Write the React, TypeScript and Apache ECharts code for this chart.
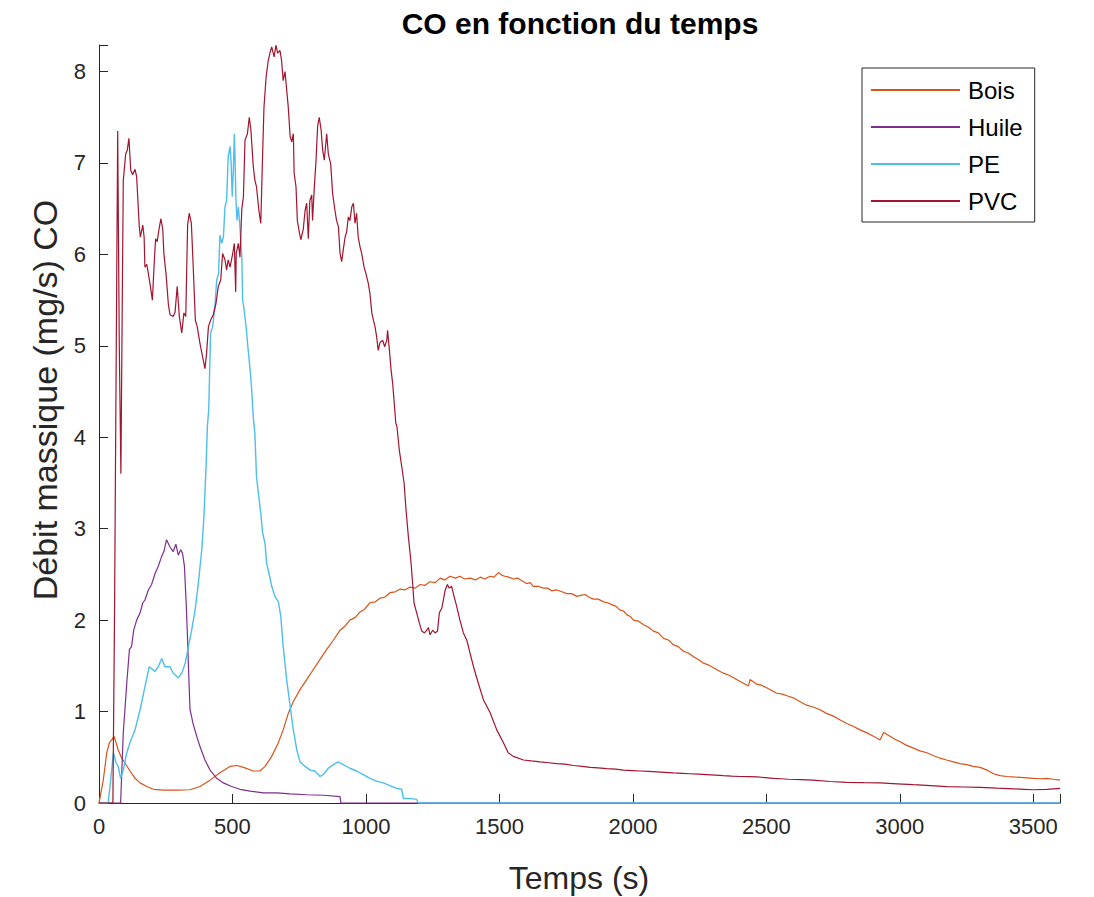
import React, { useEffect, useRef } from "react";
import * as echarts from "echarts";

const seriesNames = ["Bois", "Huile", "PE", "PVC"];
const seriesColors = ["#D95319", "#7E2F8E", "#4DBEEE", "#A2142F"];

const xTicks = [0, 500, 1000, 1500, 2000, 2500, 3000, 3500];
const yTicks = [0, 1, 2, 3, 4, 5, 6, 7, 8];

const bois: [number, number][] = [
  [0, 0], [16, 0.25], [29, 0.55], [39, 0.66], [48, 0.69], [56, 0.73], [64, 0.66], [72, 0.58], [85, 0.49],
  [97, 0.44], [116, 0.35], [135, 0.27], [154, 0.22], [179, 0.18], [204, 0.15], [241, 0.14], [291, 0.14],
  [341, 0.145], [378, 0.18], [416, 0.25], [453, 0.33], [491, 0.4], [516, 0.41], [541, 0.39], [578, 0.35],
  [603, 0.35], [622, 0.4], [647, 0.51], [672, 0.66], [690, 0.8], [709, 0.98], [728, 1.11], [753, 1.24],
  [778, 1.35], [803, 1.46], [828, 1.57], [853, 1.68], [878, 1.78], [903, 1.89], [920, 1.93], [940, 2.0],
  [960, 2.03], [978, 2.09], [995, 2.12], [1015, 2.19], [1035, 2.2], [1053, 2.24], [1070, 2.25], [1090, 2.3],
  [1110, 2.31], [1128, 2.34], [1145, 2.33], [1165, 2.36], [1185, 2.35], [1203, 2.39], [1220, 2.38],
  [1240, 2.42], [1260, 2.41], [1278, 2.46], [1295, 2.44], [1315, 2.48], [1335, 2.46], [1352, 2.48],
  [1370, 2.45], [1390, 2.46], [1410, 2.44], [1428, 2.47], [1445, 2.45], [1465, 2.48], [1480, 2.47],
  [1496, 2.52], [1510, 2.49], [1521, 2.48], [1535, 2.47], [1552, 2.45], [1568, 2.46], [1584, 2.43],
  [1602, 2.4], [1615, 2.41], [1627, 2.37], [1645, 2.37], [1665, 2.35], [1680, 2.35], [1696, 2.32],
  [1715, 2.33], [1734, 2.31], [1752, 2.29], [1770, 2.29], [1790, 2.26], [1805, 2.27], [1821, 2.28],
  [1836, 2.25], [1852, 2.23], [1870, 2.23], [1890, 2.2], [1905, 2.19], [1921, 2.17], [1937, 2.15],
  [1952, 2.11], [1965, 2.1], [1977, 2.06], [1990, 2.04], [2002, 2.0], [2020, 1.99], [2040, 1.95],
  [2060, 1.92], [2077, 1.88], [2095, 1.86], [2115, 1.8], [2135, 1.78], [2152, 1.73], [2170, 1.71],
  [2189, 1.66], [2208, 1.64], [2227, 1.6], [2245, 1.57], [2264, 1.53], [2283, 1.51], [2302, 1.48],
  [2320, 1.45], [2339, 1.42], [2358, 1.4], [2377, 1.37], [2395, 1.34], [2414, 1.31], [2433, 1.28],
  [2439, 1.35], [2464, 1.3], [2480, 1.29], [2501, 1.26], [2520, 1.23], [2539, 1.2], [2560, 1.19],
  [2580, 1.17], [2601, 1.15], [2625, 1.11], [2651, 1.07], [2675, 1.05], [2701, 1.02], [2725, 0.98],
  [2751, 0.95], [2775, 0.91], [2801, 0.87], [2825, 0.84], [2851, 0.8], [2875, 0.77], [2901, 0.73],
  [2926, 0.69], [2939, 0.77], [2963, 0.73], [2980, 0.7], [3001, 0.67], [3025, 0.63], [3051, 0.6],
  [3075, 0.57], [3101, 0.55], [3125, 0.52], [3151, 0.49], [3175, 0.47], [3201, 0.45], [3225, 0.43],
  [3251, 0.42], [3275, 0.4], [3301, 0.39], [3326, 0.36], [3351, 0.32], [3375, 0.3], [3400, 0.29],
  [3425, 0.285], [3451, 0.28], [3475, 0.275], [3500, 0.27], [3525, 0.265], [3550, 0.27], [3575, 0.26],
  [3600, 0.25],
];

const huile: [number, number][] = [
  [0, 0], [81, 0], [91, 0.77], [104, 1.31], [114, 1.68], [122, 1.71], [130, 1.89], [141, 2.0], [154, 2.08],
  [164, 2.19], [172, 2.22], [185, 2.33], [197, 2.39], [210, 2.51], [222, 2.59], [235, 2.7], [243, 2.75],
  [253, 2.88], [266, 2.8], [278, 2.75], [288, 2.83], [297, 2.71], [306, 2.77], [313, 2.73], [320, 2.59],
  [326, 2.22], [331, 1.86], [336, 1.42], [341, 1.02], [353, 0.86], [366, 0.73], [378, 0.62], [397, 0.47],
  [416, 0.36], [441, 0.27], [466, 0.22], [497, 0.18], [528, 0.15], [566, 0.13], [616, 0.11], [666, 0.11],
  [716, 0.1], [778, 0.09], [841, 0.085], [903, 0.07], [906, 0], [3600, 0],
];

const pe: [number, number][] = [
  [0, 0], [34, 0], [42, 0.2], [54, 0.55], [64, 0.44], [72, 0.4], [81, 0.27], [91, 0.36], [104, 0.55],
  [116, 0.66], [135, 0.8], [154, 1.02], [172, 1.27], [188, 1.49], [197, 1.47], [210, 1.44], [222, 1.49],
  [235, 1.58], [247, 1.49], [266, 1.49], [278, 1.42], [297, 1.37], [310, 1.42], [323, 1.53], [335, 1.71],
  [347, 1.89], [360, 2.11], [372, 2.4], [385, 2.77], [393, 3.13], [401, 3.68], [406, 4.12], [411, 4.3],
  [418, 5.14], [426, 5.21], [434, 5.43], [441, 5.72], [448, 5.79], [453, 6.21], [460, 6.12], [466, 6.19],
  [472, 6.52], [478, 6.59], [484, 7.07], [491, 7.18], [495, 7.0], [499, 6.63], [503, 6.89], [507, 7.32],
  [510, 7.0], [513, 6.59], [517, 6.37], [522, 6.52], [528, 6.3], [535, 5.97], [538, 5.5], [542, 5.43],
  [551, 5.21], [559, 4.95], [566, 4.74], [572, 4.52], [578, 4.22], [584, 4.04], [590, 3.57], [597, 3.39],
  [606, 3.17], [613, 2.95], [622, 2.84], [628, 2.62], [637, 2.51], [647, 2.37], [659, 2.26], [672, 2.2],
  [681, 2.04], [690, 1.71], [703, 1.35], [716, 1.06], [728, 0.8], [741, 0.58], [753, 0.45], [772, 0.4],
  [791, 0.36], [809, 0.35], [828, 0.29], [840, 0.31], [859, 0.38], [878, 0.42], [896, 0.45], [915, 0.42],
  [940, 0.38], [965, 0.35], [990, 0.31], [1015, 0.27], [1040, 0.24], [1065, 0.22], [1090, 0.19],
  [1115, 0.16], [1134, 0.15], [1140, 0.05], [1165, 0.05], [1190, 0.04], [1196, 0], [3600, 0],
];

const pvc: [number, number][] = [
  [0, 0], [52, 0], [58, 2.0], [70, 7.35], [76, 5.0], [82, 3.6], [88, 5.8], [91, 6.81], [100, 7.1],
  [106, 7.14], [112, 7.27], [119, 6.92], [126, 6.87], [135, 6.93], [141, 6.85], [151, 6.3], [155, 6.19],
  [164, 6.32], [169, 6.19], [172, 5.86], [179, 5.89], [185, 5.79], [191, 5.68], [200, 5.5], [206, 5.86],
  [212, 6.17], [218, 6.14], [225, 6.28], [232, 6.39], [239, 6.27], [243, 6.01], [251, 5.79], [260, 5.45],
  [266, 5.34], [278, 5.32], [285, 5.37], [293, 5.65], [301, 5.32], [310, 5.14], [318, 5.36], [325, 5.32],
  [332, 6.32], [338, 6.45], [346, 6.34], [353, 5.86], [361, 5.28], [368, 5.21], [378, 5.03], [388, 4.88],
  [397, 4.75], [403, 4.92], [410, 5.21], [418, 5.28], [428, 5.34], [438, 5.46], [447, 5.65], [456, 5.72],
  [463, 6.01], [472, 5.94], [478, 5.83], [484, 5.94], [491, 5.86], [501, 6.01], [507, 6.12], [512, 5.59],
  [514, 6.01], [522, 6.12], [528, 5.97], [535, 6.5], [541, 6.63], [547, 7.25], [556, 7.32], [563, 7.5],
  [569, 7.36], [578, 6.96], [584, 6.81], [590, 6.74], [599, 6.48], [606, 6.34], [613, 7.1], [618, 7.61],
  [626, 7.94], [634, 8.12], [641, 8.21], [647, 8.27], [656, 8.16], [663, 8.29], [669, 8.2], [678, 8.23],
  [684, 8.12], [690, 7.9], [697, 8.0], [703, 7.8], [709, 7.61], [716, 7.29], [722, 7.23], [728, 7.32],
  [731, 6.89], [738, 6.74], [743, 6.37], [750, 6.25], [756, 6.16], [765, 6.27], [772, 6.48], [778, 6.56],
  [784, 6.17], [790, 6.59], [797, 6.65], [800, 6.37], [806, 6.7], [813, 7.03], [819, 7.4], [825, 7.5],
  [832, 7.36], [838, 7.14], [844, 7.03], [853, 7.32], [859, 7.1], [868, 6.99], [875, 6.67], [884, 6.48],
  [890, 6.37], [897, 6.3], [903, 6.01], [909, 5.92], [915, 6.05], [922, 6.19], [928, 6.25], [934, 6.41],
  [940, 6.37], [947, 6.52], [953, 6.56], [959, 6.34], [965, 6.45], [971, 6.19], [978, 6.08], [984, 6.01],
  [993, 5.86], [1000, 5.79], [1009, 5.68], [1015, 5.57], [1022, 5.36], [1028, 5.28], [1034, 5.21],
  [1040, 5.1], [1046, 4.95], [1053, 5.04], [1063, 5.06], [1070, 4.99], [1078, 5.06], [1081, 5.17],
  [1088, 4.95], [1094, 4.74], [1100, 4.59], [1105, 4.41], [1112, 4.15], [1116, 4.12], [1125, 3.86],
  [1134, 3.68], [1143, 3.5], [1150, 3.21], [1159, 2.91], [1168, 2.66], [1175, 2.4], [1180, 2.19],
  [1190, 2.08], [1200, 1.97], [1209, 1.88], [1219, 1.86], [1228, 1.89], [1234, 1.92], [1240, 1.84],
  [1250, 1.89], [1259, 1.86], [1268, 1.88], [1275, 2.08], [1284, 2.13], [1290, 2.22], [1297, 2.33],
  [1305, 2.39], [1312, 2.35], [1321, 2.37], [1330, 2.26], [1340, 2.15], [1352, 2.0], [1365, 1.86],
  [1378, 1.78], [1390, 1.64], [1403, 1.49], [1421, 1.31], [1440, 1.13], [1465, 0.99], [1490, 0.8],
  [1515, 0.66], [1533, 0.55], [1552, 0.51], [1590, 0.47], [1620, 0.46], [1652, 0.45], [1685, 0.44],
  [1715, 0.43], [1745, 0.425], [1777, 0.41], [1810, 0.4], [1840, 0.39], [1870, 0.385], [1902, 0.375],
  [1935, 0.37], [1965, 0.36], [1995, 0.355], [2027, 0.35], [2060, 0.345], [2090, 0.34], [2120, 0.335],
  [2152, 0.33], [2185, 0.325], [2214, 0.32], [2245, 0.315], [2277, 0.31], [2310, 0.305], [2339, 0.3],
  [2370, 0.295], [2402, 0.29], [2434, 0.288], [2464, 0.285], [2495, 0.278], [2526, 0.27], [2555, 0.265],
  [2583, 0.26], [2630, 0.255], [2676, 0.25], [2740, 0.235], [2801, 0.225], [2865, 0.222], [2926, 0.22],
  [2990, 0.21], [3051, 0.2], [3115, 0.19], [3176, 0.18], [3240, 0.175], [3301, 0.17], [3365, 0.162],
  [3426, 0.155], [3465, 0.15], [3500, 0.145], [3550, 0.15], [3600, 0.16],
];

const seriesData = [bois, huile, pe, pvc];

const FONT = "'Liberation Sans', Arial, Helvetica, sans-serif";
const INK = "#262626";

export default function App() {
  const ref = useRef<HTMLDivElement>(null);

  useEffect(() => {
    if (!ref.current) return;
    const chart = echarts.init(ref.current, undefined, { renderer: "svg" });
    const option: any = {
      animation: false,
      backgroundColor: "#ffffff",
      textStyle: { fontFamily: FONT },
      grid: { left: 99, right: 34, top: 45, bottom: 94, containLabel: false },
      legend: {
        data: seriesNames,
        orient: "vertical",
        left: 862,
        top: 68,
        icon: "rect",
        itemWidth: 89,
        itemHeight: 2,
        itemGap: 13,
        padding: [10, 12, 9, 9],
        borderColor: INK,
        borderWidth: 1,
        backgroundColor: "#ffffff",
        textStyle: { fontSize: 24, color: "#000", fontFamily: FONT, lineHeight: 24, padding: [0, 0, 0, 3] },
      },
      xAxis: {
        type: "value",
        min: 0,
        max: 3600,
        interval: 500,
        z: 1,
        axisLine: { show: true, onZero: false, lineStyle: { color: INK, width: 1 } },
        axisTick: { show: true, inside: true, length: 9, lineStyle: { color: INK } },
        splitLine: { show: false },
        axisLabel: {
          fontSize: 22,
          color: INK,
          margin: 12,
          fontFamily: FONT,
          formatter: (v: number) => (xTicks.includes(v) ? String(v) : ""),
        },
      },
      yAxis: {
        type: "value",
        min: 0,
        max: 8.29,
        interval: 1,
        z: 1,
        axisLine: { show: true, onZero: false, lineStyle: { color: INK, width: 1 } },
        axisTick: { show: true, inside: true, length: 9, lineStyle: { color: INK } },
        splitLine: { show: false },
        axisLabel: {
          fontSize: 22,
          color: INK,
          margin: 13,
          fontFamily: FONT,
          formatter: (v: number) => (yTicks.includes(v) ? String(v) : ""),
        },
      },
      graphic: [
        {
          type: "text",
          x: 580,
          y: 23,
          style: {
            text: "CO en fonction du temps",
            fontSize: 30,
            fontWeight: "bold",
            fontFamily: FONT,
            fill: "#000",
            textAlign: "center",
            textVerticalAlign: "middle",
          },
        },
        {
          type: "text",
          x: 579,
          y: 878,
          style: {
            text: "Temps (s)",
            fontSize: 32,
            fontFamily: FONT,
            fill: INK,
            textAlign: "center",
            textVerticalAlign: "middle",
          },
        },
        {
          type: "text",
          x: 45,
          y: 400,
          rotation: Math.PI / 2,
          style: {
            text: "Débit massique (mg/s) CO",
            fontSize: 34,
            fontFamily: FONT,
            fill: INK,
            textAlign: "center",
            textVerticalAlign: "middle",
          },
        },
      ],
      series: seriesNames.map((name, i) => ({
        name,
        type: "line",
        data: seriesData[i],
        showSymbol: false,
        symbol: "none",
        clip: false,
        color: seriesColors[i],
        lineStyle: { color: seriesColors[i], width: name === "PE" ? 1.4 : 1.2 },
        z: 2 + i,
      })),
    };
    chart.setOption(option);
    return () => chart.dispose();
  }, []);

  return (
    <div
      ref={ref}
      style={{ position: "fixed", left: 0, top: 0, width: 1094, height: 897, background: "#fff" }}
    />
  );
}
